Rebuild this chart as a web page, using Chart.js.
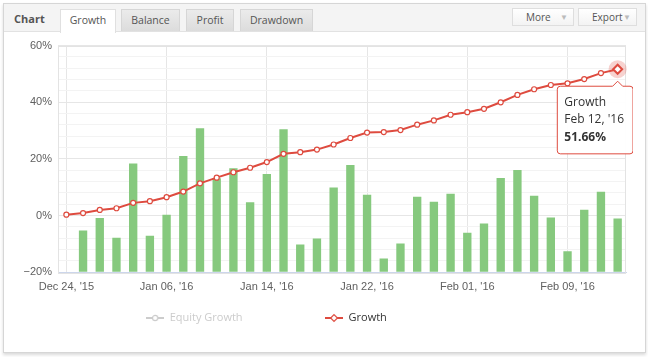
<!DOCTYPE html>
<html><head><meta charset="utf-8">
<script src="https://cdn.jsdelivr.net/npm/chart.js@4.4.1/dist/chart.umd.min.js"></script>
<style>
html,body{margin:0;padding:0;width:648px;height:357px;overflow:hidden;background:#fff;font-family:"Open Sans",sans-serif;}
.abs{position:absolute;box-sizing:border-box;}
#frame{left:3px;top:3px;width:643px;height:350px;border:1px solid #d6d6d6;box-shadow:0 2px 3px rgba(0,0,0,0.15);background:#fff;}
#header{left:4px;top:4px;width:641px;height:28px;background:#f4f4f4;border-bottom:1px solid #e2e2e2;}
#title{left:14px;top:10px;font-weight:bold;font-size:11px;line-height:18px;color:#555;}
.tab{top:9px;height:22px;font-size:10.5px;line-height:21px;color:#555;text-align:center;border:1px solid #d6d6d6;border-bottom:none;background:linear-gradient(#ebebeb,#dcdcdc);}
.tab.active{background:#fff;height:24px;border-color:#e0e0e0;}
.btn{top:8px;height:18px;font-size:10px;line-height:16px;color:#555;border:1px solid #dedede;background:linear-gradient(#ffffff,#f3f3f3);padding-left:13px;}
.btn span{position:absolute;right:5px;top:0;color:#bbb;font-size:8px;}
#wrap{left:-93px;top:33px;width:726px;height:317px;}
</style></head>
<body>
<div id="frame" class="abs"></div>
<div id="header" class="abs"></div>
<div id="title" class="abs">Chart</div>
<div class="abs tab active" style="left:60px;width:56px;">Growth</div>
<div class="abs tab" style="left:121px;width:59px;">Balance</div>
<div class="abs tab" style="left:186px;width:48px;">Profit</div>
<div class="abs tab" style="left:240px;width:73px;">Drawdown</div>
<div class="abs btn" style="left:512px;width:62px;">More<span>&#9660;</span></div>
<div class="abs btn" style="left:578px;width:59px;">Export<span>&#9660;</span></div>
<div id="wrap" class="abs"><canvas id="c" width="726" height="317"></canvas></div>
<script>
// ---- data ----
const dates = ["Dec 24, '15","Dec 28, '15","Dec 29, '15","Dec 30, '15","Jan 04, '16","Jan 05, '16","Jan 06, '16",
  "Jan 07, '16","Jan 08, '16","Jan 11, '16","Jan 12, '16","Jan 13, '16","Jan 14, '16","Jan 15, '16",
  "Jan 18, '16","Jan 19, '16","Jan 20, '16","Jan 21, '16","Jan 22, '16","Jan 25, '16","Jan 26, '16",
  "Jan 27, '16","Jan 28, '16","Jan 29, '16","Feb 01, '16","Feb 02, '16","Feb 03, '16","Feb 04, '16",
  "Feb 05, '16","Feb 08, '16","Feb 09, '16","Feb 10, '16","Feb 11, '16","Feb 12, '16"];
const tickLabels = ["Dec 24, '15","Jan 06, '16","Jan 14, '16","Jan 22, '16","Feb 01, '16","Feb 09, '16"];
const growth = [0.35,0.9,2.0,2.6,4.5,5.1,6.5,8.5,11.4,13.4,15.3,16.9,18.9,21.8,22.4,23.3,25.1,27.4,
  29.3,29.5,30.2,32.1,33.6,35.6,36.5,37.7,40.0,42.6,44.6,46.1,46.7,48.2,50.3,51.66];
const equityGrowth = []; // hidden series
const dailyBars = [null,-5.25,-0.8,-7.8,18.4,-7.1,0.35,21,30.8,13.2,16.7,4.7,14.7,30.5,-10.2,-8.1,9.9,
  17.9,7.4,-15.1,-9.8,6.7,4.9,7.7,-6.0,-2.8,13.3,16.1,7.0,-0.7,-12.6,2.1,8.4,-1.05];
const yMin = -20, yMax = 60;

// ---- styles ----
const RED = '#de4b3f';
const GREEN = '#86c97e';
const tickFont = {family:'"Liberation Sans", Arial, sans-serif', size:11};

function legendSymbol(color, style){
  const c = document.createElement('canvas'); c.width = 18; c.height = 10;
  const g = c.getContext('2d');
  g.strokeStyle = color; g.lineWidth = 2;
  g.beginPath(); g.moveTo(0,5); g.lineTo(18,5); g.stroke();
  g.fillStyle = '#fff'; g.lineWidth = 1.2; g.beginPath();
  if (style === 'circle') g.arc(9,5,2.6,0,Math.PI*2);
  else { g.moveTo(9,1.6); g.lineTo(12.4,5); g.lineTo(9,8.4); g.lineTo(5.6,5); g.closePath(); }
  g.fill(); g.stroke();
  return c;
}
const symEquity = legendSymbol('#cccccc','circle');
const symGrowth = legendSymbol(RED,'diamond');
const GAP = ' '.repeat(25);

const haloPlugin = {
  id:'halo',
  beforeDatasetsDraw(chart){
    const ctx = chart.ctx;
    chart.getActiveElements().forEach(a => {
      if (a.datasetIndex !== 0) return;
      ctx.save(); ctx.fillStyle = 'rgba(222,75,63,0.25)';
      ctx.beginPath(); ctx.arc(a.element.x, a.element.y, 9, 0, Math.PI*2); ctx.fill(); ctx.restore();
    });
  }
};
const plotBorder = {
  id:'plotBorder',
  beforeDatasetsDraw(chart){
    const {ctx, chartArea:a} = chart;
    ctx.save(); ctx.strokeStyle = '#e3e3e3'; ctx.lineWidth = 1;
    ctx.strokeRect(Math.round(a.left)+0.5, Math.round(a.top)+0.5, Math.round(a.right-a.left)-1, Math.round(a.bottom-a.top));
    ctx.restore();
  }
};

const chart = new Chart(document.getElementById('c'), {
  type:'bar',
  data:{
    labels: dates,
    datasets:[
      {type:'line', label:'Growth', data:growth, order:0, borderColor:RED, borderWidth:2, tension:0,
       pointRadius:2.5, pointBackgroundColor:'#fff', pointBorderColor:RED, pointBorderWidth:1.2,
       pointHoverRadius:4.5, pointHoverBorderWidth:2, pointHoverBackgroundColor:'#fff', pointHoverBorderColor:RED,
       pointStyle: ctx => ctx.active ? 'rectRot' : 'circle'},
      {type:'line', label:'Equity Growth', data:equityGrowth, hidden:true, borderColor:'#cccccc'},
      {type:'bar', label:'Daily', data:dailyBars, base:yMin, order:1, backgroundColor:GREEN,
       barPercentage:0.5, categoryPercentage:1.0}
    ]
  },
  options:{
    responsive:false, animation:false, devicePixelRatio:1, events:[],
    layout:{padding:{top:10, right:7, bottom:16.5, left:0}},
    scales:{
      x:{type:'category', offset:true,
         grid:{offset:false, color:'#e6e6e6', drawTicks:false},
         border:{color:'#ccd6eb'},
         ticks:{autoSkip:false, maxRotation:0, padding:8, font:tickFont, color:'#606060',
                callback:(v,i) => tickLabels.includes(dates[i]) ? dates[i] : null}},
      y:{min:yMin, max:yMax,
         grid:{drawTicks:false, color: c => (c.tick && Math.round(c.tick.value) % 20 === 0) ? '#e6e6e6' : '#f3f3f3'},
         border:{display:false},
         ticks:{stepSize:4, autoSkip:false, padding:6, font:tickFont, color:'#606060',
                callback: v => { const r = Math.round(v); return r % 20 === 0 ? (r < 0 ? '\u2212' + Math.abs(r) : r) + '%' : ''; }},
         afterFit: s => { s.width = 151; }}
    },
    plugins:{
      legend:{position:'bottom', align:'center',
        labels:{usePointStyle:true, pointStyleWidth:18, padding:11,
          font:{family:'"Open Sans", sans-serif', size:11},
          generateLabels: () => [
            {text:'Equity Growth' + GAP, fontColor:'#cccccc', pointStyle:symEquity, hidden:false, datasetIndex:1, lineWidth:0, fillStyle:'transparent', strokeStyle:'transparent'},
            {text:'Growth', fontColor:'#333333', pointStyle:symGrowth, hidden:false, datasetIndex:0, lineWidth:0, fillStyle:'transparent', strokeStyle:'transparent'}
          ]}},
      tooltip:{
        enabled:true, xAlign:'center', yAlign:'top', displayColors:false,
        filter: item => item.datasetIndex === 0,
        backgroundColor:'rgba(255,255,255,0.96)', borderColor:RED, borderWidth:1, cornerRadius:3,
        caretSize:5, caretPadding:12,
        padding:{top:9, bottom:9, left:7, right:9},
        titleColor:'#333', bodyColor:'#333', footerColor:'#333',
        titleFont:{family:'"Open Sans", sans-serif', size:12, weight:'normal'},
        bodyFont:{family:'"Open Sans", sans-serif', size:12, weight:'normal'},
        footerFont:{family:'"Open Sans", sans-serif', size:12, weight:'bold'},
        titleMarginBottom:3.2, footerMarginTop:3.2, bodySpacing:0,
        callbacks:{
          title: items => items[0].dataset.label,
          label: item => item.label,
          footer: items => items[0].parsed.y.toFixed(2) + '%'
        }
      }
    }
  },
  plugins:[plotBorder, haloPlugin]
});
const last = growth.length - 1;
chart.setActiveElements([{datasetIndex:0, index:last}]);
chart.tooltip.setActiveElements([{datasetIndex:0, index:last}], {x:0, y:0});
chart.update();
</script>
</body></html>
